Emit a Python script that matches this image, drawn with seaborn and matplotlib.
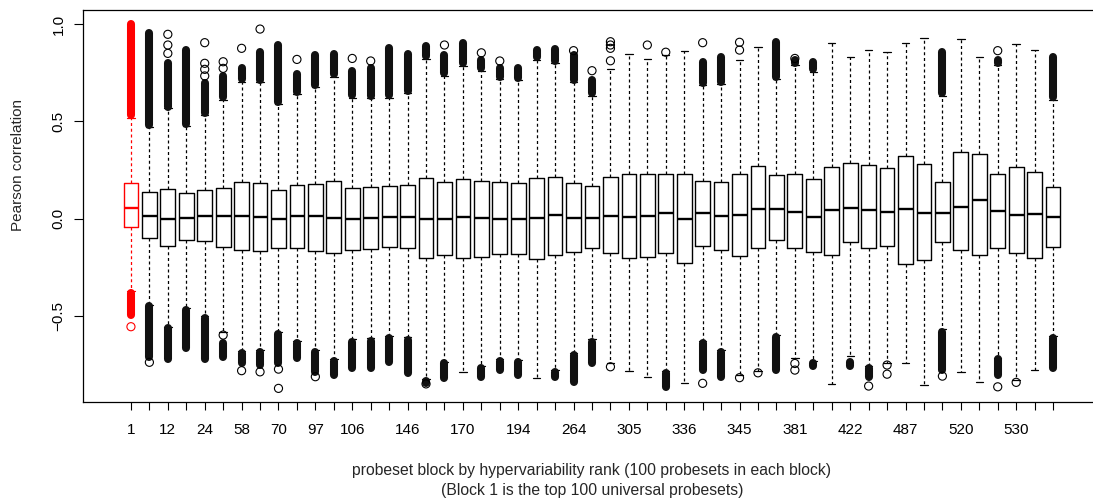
import numpy as np
import pandas as pd
import matplotlib
matplotlib.use("Agg")
import matplotlib.pyplot as plt
import seaborn as sns

# ---------------- data ----------------
tick_labels = ["1", "", "12", "", "24", "", "58", "", "70", "", "97", "", "106", "", "",
               "146", "", "", "170", "", "", "194", "", "", "264", "", "", "305", "", "",
               "336", "", "", "345", "", "", "381", "", "", "422", "", "", "487", "", "",
               "520", "", "", "530", "", ""]

q3 = [.184, .135, .150, .131, .148, .158, .188, .181, .148, .174,
      .176, .191, .158, .160, .165, .174, .208, .189, .201, .194,
      .186, .183, .207, .215, .183, .165, .213, .230, .229, .230,
      .230, .191, .186, .227, .272, .225, .227, .203, .263, .284,
      .277, .261, .320, .280, .186, .342, .332, .227, .263, .241, .164]
med = [.056, .013, -.001, .003, .011, .011, .011, .006, -.004, .013,
       .011, .001, -.001, .001, .008, .006, -.003, -.003, .006, .001,
       -.004, -.004, .001, .016, .001, .001, .013, .008, .015, .027,
       -.004, .027, .011, .020, .049, .047, .033, .009, .044, .054,
       .045, .035, .050, .028, .030, .058, .094, .037, .016, .023, .006]
q1 = [-.045, -.102, -.140, -.110, -.117, -.147, -.164, -.165, -.152, -.152,
      -.167, -.179, -.160, -.159, -.148, -.150, -.205, -.189, -.201, -.198,
      -.183, -.183, -.208, -.188, -.171, -.153, -.176, -.205, -.196, -.179,
      -.231, -.143, -.164, -.191, -.150, -.111, -.153, -.172, -.189, -.122,
      -.150, -.143, -.235, -.215, -.122, -.164, -.188, -.153, -.177, -.202, -.147]
whisk_hi = [.515, .47, .57, .475, .53, .61, .70, .70, .59, .64,
            .675, .73, .62, .62, .62, .645, .82, .735, .785, .76,
            .715, .71, .815, .80, .70, .63, .767, .844, .820, .84,
            .863, .685, .69, .815, .880, .715, .79, .755, .901, .829,
            .866, .858, .901, .928, .63, .923, .829, .79, .896, .866, .61]
whisk_lo = [-.372, -.445, -.555, -.46, -.50, -.585, -.68, -.675, -.585, -.63,
            -.675, -.72, -.62, -.615, -.605, -.61, -.827, -.735, -.788, -.76,
            -.72, -.725, -.822, -.78, -.69, -.62, -.745, -.782, -.813, -.785,
            -.844, -.63, -.675, -.805, -.785, -.60, -.719, -.73, -.853, -.707,
            -.76, -.74, -.745, -.858, -.57, -.791, -.839, -.715, -.83, -.779, -.605]

# dense runs of outliers (block number, from, to)
dense_block = [1, 2, 3, 4, 5, 6, 7, 8, 9, 10, 11, 12, 13, 14, 15, 16, 17, 18, 19, 20,
               21, 22, 23, 24, 25, 26, 32, 33, 36, 37, 38, 45, 48, 51,
               1, 2, 3, 4, 5, 6, 7, 8, 9, 10, 11, 12, 13, 14, 15, 16, 17, 18, 20,
               21, 22, 24, 25, 26, 30, 32, 33, 36, 38, 40, 41, 45, 48, 51]
dense_from = [.53, .48, .575, .486, .541, .623, .716, .712, .600, .652, .686, .743, .635, .630,
              .635, .657, .835, .747, .798, .772, .729, .720, .829, .811, .712, .644, .695, .703,
              .726, .801, .767, .644, .798, .623,
              -.385, -.45, -.565, -.47, -.513, -.642, -.693, -.685, -.594, -.639, -.685, -.731,
              -.633, -.628, -.616, -.625, -.835, -.745, -.770, -.731, -.736, -.788, -.702, -.633,
              -.796, -.639, -.685, -.608, -.740, -.736, -.770, -.582, -.724, -.616]
dense_to = [1.0, .955, .798, .866, .695, .733, .772, .858, .892, .743, .841, .846, .760, .772,
            .875, .844, .887, .841, .901, .815, .772, .772, .866, .870, .841, .712, .806, .829,
            .909, .815, .806, .858, .815, .829,
            -.495, -.71, -.724, -.667, -.724, -.710, -.745, -.753, -.745, -.719, -.788, -.805,
            -.770, -.770, -.736, -.796, -.845, -.822, -.813, -.779, -.805, -.813, -.839, -.745,
            -.865, -.779, -.813, -.779, -.757, -.757, -.813, -.779, -.805, -.770]

# single outliers (block number, value)
out_block = [1, 2, 3, 3, 3, 5, 5, 5, 5, 6, 6, 6, 7, 7, 8, 8, 9, 9, 10, 11, 13, 14, 17, 18,
             20, 21, 25, 26, 27, 27, 27, 27, 27, 29, 30, 32, 32, 34, 34, 34, 35, 37, 37, 37,
             41, 42, 42, 45, 48, 48, 49]
out_value = [-.556, -.739, .947, .892, .849, .904, .798, .767, .733, .806, .772, -.599, .875,
             -.782, .974, -.788, -.774, -.873, .818, -.813, .823, .810, -.850, .892, .852, .810,
             .863, .760, .909, .892, .875, .811, -.762, .892, .855, .904, -.847, .906, .866,
             -.818, -.793, .823, -.745, -.779, -.861, -.753, -.800, -.810, .863, -.865, -.842]

xlabel_text = ("probeset block by hypervariability rank (100 probesets in each block)\n"
               "(Block 1 is the top 100 universal probesets)")
ylabel_text = "Pearson correlation"

# ---------------- figure ----------------
sns.set_style("white")
plt.rcParams["font.family"] = ["Liberation Sans", "DejaVu Sans"]

W, H = 1093, 500
fig = plt.figure(figsize=(W / 100, H / 100), dpi=100)
ax = fig.add_axes([83 / W, 98 / H, 1018 / W, 392 / H])

n = len(q3)
names = [f"b{i:02d}" for i in range(n)]
colors = {nm: ("#ff0000" if i == 0 else "black") for i, nm in enumerate(names)}

df = pd.DataFrame({
    "block": np.repeat(names, 5),
    "value": np.column_stack([whisk_lo, q1, med, q3, whisk_hi]).ravel(),
})

sns.boxplot(data=df, x="block", y="value", hue="block", order=names, hue_order=names,
            palette=colors, fill=False, width=0.8, whis=np.inf, dodge=False,
            linewidth=1.0, fliersize=0, legend=False,
            medianprops=dict(linewidth=1.7),
            whiskerprops=dict(linestyle=(0, (2.4, 2.2)), linewidth=0.9),
            capprops=dict(linestyle="-", linewidth=0.9),
            ax=ax)

# dense outlier runs
dx = np.array(dense_block) - 1
dcol = ["#ff0000" if b == 1 else "#111111" for b in dense_block]
ax.vlines(dx, dense_from, dense_to, colors=dcol, linewidth=5.8, capstyle="round", zorder=3)

# single outliers
ob = np.array(out_block)
ov = np.array(out_value)
for sel, col in [(ob == 1, "#ff0000"), (ob != 1, "black")]:
    sns.scatterplot(x=ob[sel] - 1, y=ov[sel], marker="o", s=34, ax=ax, zorder=4)
    pts = ax.collections[-1]
    pts.set_facecolor("none")
    pts.set_edgecolor(col)
    pts.set_linewidth(0.8)

ax.set_xlim(-2.6, 52.6)
ax.set_ylim(-0.943, 1.072)

ax.set_xticks(range(n))
ax.set_xticklabels(tick_labels, fontsize=11)
ax.set_yticks([-0.5, 0.0, 0.5, 1.0])
ax.set_yticklabels(["\u22120.5", "0.0", "0.5", "1.0"], rotation=90, va="center", fontsize=11)

ax.tick_params(axis="x", direction="out", length=5.8, width=0.8, pad=9, colors="black",
               bottom=True)
ax.tick_params(axis="y", direction="out", length=6.5, width=0.8, pad=6, colors="black",
               left=True)

for side in ["left", "bottom", "top", "right"]:
    ax.spines[side].set_visible(True)
    ax.spines[side].set_color("black")
    ax.spines[side].set_linewidth(0.9)

ax.set_xlabel(xlabel_text, fontsize=11.3, labelpad=19, linespacing=1.45)
ax.set_ylabel(ylabel_text, fontsize=11)
ax.yaxis.set_label_coords(-0.057, 0.605)

fig.savefig("out.png", dpi=100)
